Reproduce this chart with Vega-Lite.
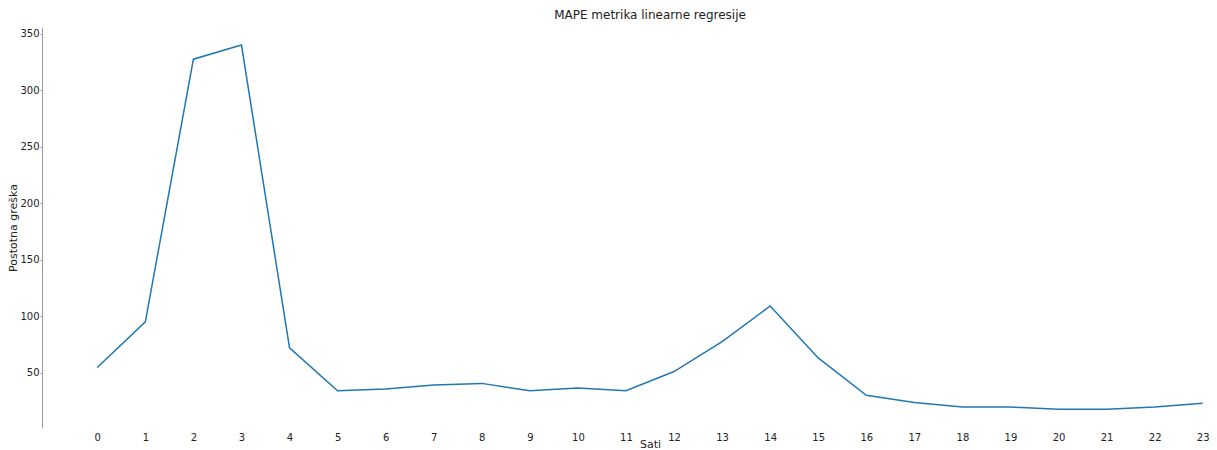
{
  "$schema": "https://vega.github.io/schema/vega-lite/v6.json",
  "autosize": "none",
  "padding": {"left": 42, "top": 27, "right": 0, "bottom": 22},
  "width": 1216,
  "height": 401,
  "background": "white",
  "config": {"view": {"stroke": null}, "font": "DejaVu Sans"},
  "title": {"text": "MAPE metrika linearne regresije", "fontSize": 12, "fontWeight": "normal", "font": "DejaVu Sans", "color": "#222", "offset": 5, "anchor": "middle"},
  "data": {"values": [
    {"sat": 0, "mape": 54.5},
    {"sat": 1, "mape": 95},
    {"sat": 2, "mape": 327.5},
    {"sat": 3, "mape": 340},
    {"sat": 4, "mape": 72},
    {"sat": 5, "mape": 34},
    {"sat": 6, "mape": 35.5},
    {"sat": 7, "mape": 39},
    {"sat": 8, "mape": 40.5},
    {"sat": 9, "mape": 34},
    {"sat": 10, "mape": 36.5},
    {"sat": 11, "mape": 34},
    {"sat": 12, "mape": 51},
    {"sat": 13, "mape": 77.5},
    {"sat": 14, "mape": 109},
    {"sat": 15, "mape": 63},
    {"sat": 16, "mape": 30},
    {"sat": 17, "mape": 23.5},
    {"sat": 18, "mape": 19.5},
    {"sat": 19, "mape": 19.5},
    {"sat": 20, "mape": 17.5},
    {"sat": 21, "mape": 17.5},
    {"sat": 22, "mape": 19.5},
    {"sat": 23, "mape": 23}
  ]},
  "mark": {"type": "line", "color": "#1f77b4", "strokeWidth": 1.5, "clip": true},
  "encoding": {
    "x": {"field": "sat", "type": "quantitative",
      "scale": {"domain": [-1.15, 24.15], "nice": false, "zero": false},
      "axis": {"title": "Sati", "values": [0,1,2,3,4,5,6,7,8,9,10,11,12,13,14,15,16,17,18,19,20,21,22,23],
        "domain": false, "ticks": false, "grid": false, "labelPadding": 4, "labelFontSize": 10, "labelColor": "#222",
        "titleFontSize": 11, "titleFontWeight": "normal", "titleColor": "#222", "titlePadding": -4, "labelFont": "DejaVu Sans", "titleFont": "DejaVu Sans"}},
    "y": {"field": "mape", "type": "quantitative",
      "scale": {"domain": [1, 356], "nice": false, "zero": false},
      "axis": {"title": "Postotna greška", "values": [50,100,150,200,250,300,350],
        "domain": true, "domainColor": "#999", "ticks": true, "tickSize": 2, "tickColor": "#999", "grid": false,
        "labelPadding": 1, "labelFontSize": 10, "labelColor": "#222",
        "titleFontSize": 11, "titleFontWeight": "normal", "titleColor": "#222", "titlePadding": 1, "labelFont": "DejaVu Sans", "titleFont": "DejaVu Sans"}}
  }
}
